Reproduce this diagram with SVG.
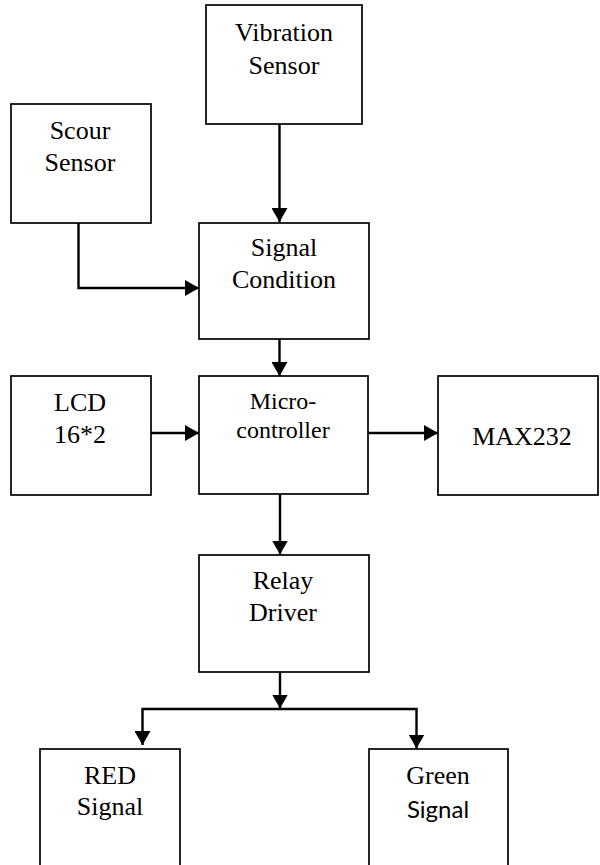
<svg xmlns="http://www.w3.org/2000/svg" width="600" height="865" viewBox="0 0 600 865">
<defs>
<style>
.box{fill:#fff;stroke:#000;stroke-width:1.7}
.t{font-size:26px;fill:#000;text-anchor:middle}
.s{font-size:24px}
.c{fill:none;stroke:#000;stroke-width:2.4}
</style>
<marker id="ah" viewBox="0 0 14 16" refX="14" refY="8" markerWidth="14" markerHeight="16" orient="auto" markerUnits="userSpaceOnUse">
<path d="M0,0 L14,8 L0,16 z" fill="#000"/>
</marker>
</defs>
<rect width="600" height="865" fill="#fff"/>
<g id="connectors">
<path class="c" d="M279.5,124 V222" marker-end="url(#ah)"/>
<path class="c" d="M78.5,223 V288 H199" marker-end="url(#ah)"/>
<path class="c" d="M279.5,339 V376" marker-end="url(#ah)"/>
<path class="c" d="M151,433 H199" marker-end="url(#ah)"/>
<path class="c" d="M368,433 H438" marker-end="url(#ah)"/>
<path class="c" d="M280,494 V554.5" marker-end="url(#ah)"/>
<path class="c" d="M280,672 V708.5" marker-end="url(#ah)"/>
<path class="c" d="M280,709 H142.5 V745" marker-end="url(#ah)"/>
<path class="c" d="M280,709 H416.5 V748.5" marker-end="url(#ah)"/>
</g>
<g id="vibration">
<rect class="box" x="206" y="5" width="156" height="119"/>
<text class="t" font-family="Liberation Serif" x="284" y="41">Vibration</text>
<text class="t" font-family="Liberation Serif" x="284" y="74">Sensor</text>
</g>
<g id="scour">
<rect class="box" x="11" y="104" width="140" height="119"/>
<text class="t" font-family="Liberation Serif" x="80" y="139">Scour</text>
<text class="t" font-family="Liberation Serif" x="80" y="171">Sensor</text>
</g>
<g id="signal-condition">
<rect class="box" x="199" y="223" width="170" height="116"/>
<text class="t" font-family="Liberation Serif" x="284" y="256">Signal</text>
<text class="t" font-family="Liberation Serif" x="284" y="288">Condition</text>
</g>
<g id="lcd">
<rect class="box" x="11" y="376" width="140" height="119"/>
<text class="t" font-family="Liberation Serif" x="80" y="411">LCD</text>
<text class="t" font-family="Liberation Serif" x="80" y="443">16*2</text>
</g>
<g id="microcontroller">
<rect class="box" x="199" y="376" width="169" height="118"/>
<text class="t s" font-family="Liberation Serif" x="283" y="409">Micro-</text>
<text class="t s" font-family="Liberation Serif" x="283" y="438">controller</text>
</g>
<g id="max232">
<rect class="box" x="438" y="376" width="160" height="119"/>
<text class="t" font-family="Liberation Serif" x="522" y="445">MAX232</text>
</g>
<g id="relay-driver">
<rect class="box" x="199" y="555" width="170" height="117"/>
<text class="t" font-family="Liberation Serif" x="283" y="589">Relay</text>
<text class="t" font-family="Liberation Serif" x="283" y="621">Driver</text>
</g>
<g id="red-signal">
<rect class="box" x="40" y="749" width="140" height="130"/>
<text class="t" font-family="Liberation Serif" x="110" y="784">RED</text>
<text class="t" font-family="Liberation Serif" x="110" y="815">Signal</text>
</g>
<g id="green-signal">
<rect class="box" x="369" y="749" width="139" height="130"/>
<text class="t" font-family="Liberation Serif" x="438" y="784">Green</text>
<text class="t s" font-family="Lato" x="438" y="818">Signal</text>
</g>
</svg>
